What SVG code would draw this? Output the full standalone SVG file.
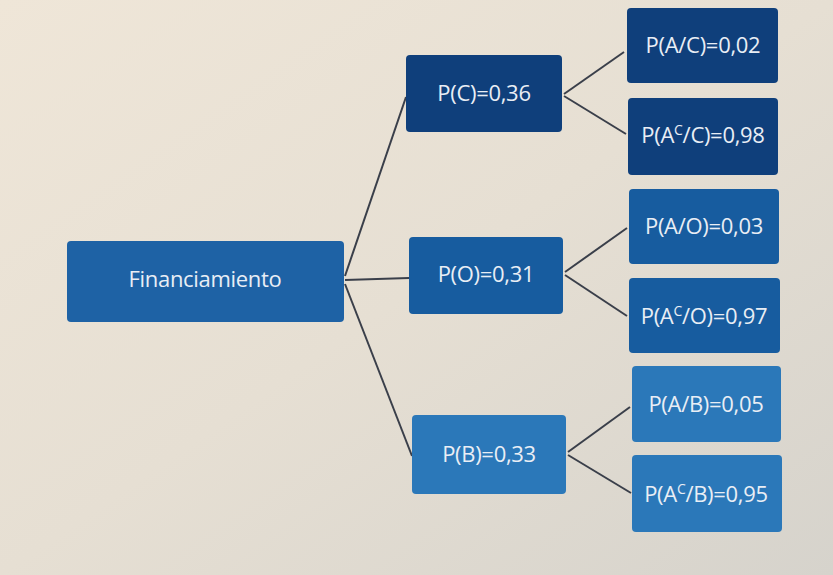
<svg xmlns="http://www.w3.org/2000/svg" width="833" height="575" viewBox="0 0 833 575">
<defs>
<linearGradient id="bg" x1="0" y1="0" x2="1" y2="1">
<stop offset="0" stop-color="#efe6d8"/>
<stop offset="0.5" stop-color="#e6dfd3"/>
<stop offset="1" stop-color="#d6d3cc"/>
</linearGradient>
</defs>
<style>
.t{font-family:"Open Sans","Noto Sans","Liberation Sans",sans-serif;font-size:22px;fill:#e9eef5;text-anchor:middle;letter-spacing:-0.3px}
.s{font-size:14px}
.c{stroke:#3a3f4a;stroke-width:2;fill:none}
.n1{fill:#1e62a5}
.n2{fill:#0f3f7b}
.n3{fill:#175c9f}
.n4{fill:#2b78b9}
</style>
<rect width="833" height="575" fill="url(#bg)"/>
<g id="connectors">
<line class="c" x1="345" y1="276" x2="406" y2="97"/>
<line class="c" x1="345" y1="280" x2="409" y2="278"/>
<line class="c" x1="345" y1="284" x2="412" y2="456"/>
<line class="c" x1="564" y1="94" x2="624" y2="52"/>
<line class="c" x1="564" y1="96" x2="626" y2="134"/>
<line class="c" x1="565" y1="272" x2="627" y2="228"/>
<line class="c" x1="565" y1="275" x2="627" y2="316"/>
<line class="c" x1="568" y1="452" x2="630" y2="407"/>
<line class="c" x1="568" y1="455" x2="631" y2="493"/>
</g>
<g id="financiamiento">
<rect class="n1" x="67" y="241" width="277" height="81" rx="4"/>
<text class="t" x="205" y="287">Financiamiento</text>
</g>
<g id="pc">
<rect class="n2" x="406" y="55" width="156" height="77" rx="4"/>
<text class="t" x="484" y="101">P(C)=0,36</text>
</g>
<g id="pac">
<rect class="n2" x="627" y="8" width="151" height="75" rx="4"/>
<text class="t" x="703" y="53">P(A/C)=0,02</text>
</g>
<g id="pacc">
<rect class="n2" x="628" y="98" width="150" height="77" rx="4"/>
<text class="t" x="703" y="143">P(A<tspan class="s" dy="-8">C</tspan><tspan dy="8">/C)=0,98</tspan></text>
</g>
<g id="po">
<rect class="n3" x="409" y="237" width="154" height="77" rx="4"/>
<text class="t" x="486" y="282">P(O)=0,31</text>
</g>
<g id="pao">
<rect class="n3" x="629" y="189" width="150" height="75" rx="4"/>
<text class="t" x="704" y="234">P(A/O)=0,03</text>
</g>
<g id="paco">
<rect class="n3" x="629" y="278" width="151" height="75" rx="4"/>
<text class="t" x="704" y="324">P(A<tspan class="s" dy="-8">C</tspan><tspan dy="8">/O)=0,97</tspan></text>
</g>
<g id="pb">
<rect class="n4" x="412" y="415" width="154" height="79" rx="4"/>
<text class="t" x="489" y="462">P(B)=0,33</text>
</g>
<g id="pab">
<rect class="n4" x="632" y="366" width="149" height="76" rx="4"/>
<text class="t" x="706" y="412">P(A/B)=0,05</text>
</g>
<g id="pacb">
<rect class="n4" x="632" y="455" width="150" height="77" rx="4"/>
<text class="t" x="706" y="502">P(A<tspan class="s" dy="-8">C</tspan><tspan dy="8">/B)=0,95</tspan></text>
</g>
</svg>
